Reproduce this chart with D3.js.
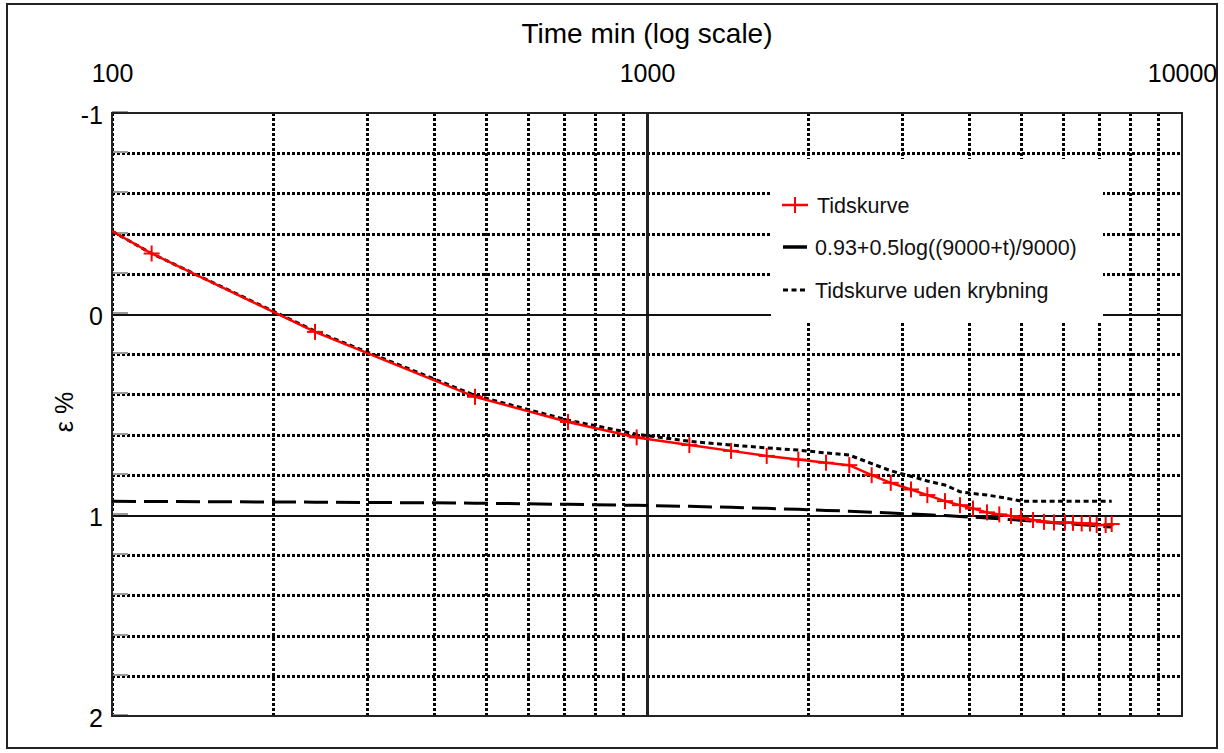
<!DOCTYPE html>
<html>
<head>
<meta charset="utf-8">
<script src="https://cdn.jsdelivr.net/npm/d3@7"></script>
<style>
  html, body { margin: 0; padding: 0; background: #fff; }
  svg { display: block; font-family: "Liberation Sans", Arial, sans-serif; }
</style>
</head>
<body>
<svg id="chart" width="1224" height="753"></svg>
<script>
// ---- data ----
const times = [100, 118.6, 239.6, 477, 711.8, 956.5, 1200, 1436, 1674, 1918, 2161, 2388, 2630, 2855, 3115, 3342, 3606, 3846, 4068, 4320, 4555, 4790, 5000, 5267, 5521, 5764, 6044, 6256, 6494, 6730, 6927, 7200, 7389];
const tidskurve = [-0.412, -0.301, 0.089, 0.412, 0.537, 0.614, 0.652, 0.681, 0.706, 0.724, 0.740, 0.752, 0.802, 0.840, 0.873, 0.901, 0.931, 0.951, 0.968, 0.987, 0.997, 1.005, 1.014, 1.025, 1.034, 1.037, 1.037, 1.039, 1.042, 1.042, 1.050, 1.050, 1.045];
const krybFit = [0.932, 0.933, 0.936, 0.941, 0.947, 0.952, 0.957, 0.962, 0.967, 0.972, 0.977, 0.981, 0.986, 0.990, 0.995, 0.999, 1.003, 1.007, 1.011, 1.015, 1.019, 1.023, 1.026, 1.030, 1.034, 1.038, 1.042, 1.045, 1.048, 1.051, 1.054, 1.058, 1.060];
const udenKryb = [-0.412, -0.301, 0.085, 0.405, 0.528, 0.598, 0.633, 0.652, 0.666, 0.677, 0.691, 0.702, 0.744, 0.780, 0.807, 0.831, 0.851, 0.884, 0.893, 0.901, 0.910, 0.921, 0.931, 0.931, 0.931, 0.931, 0.931, 0.931, 0.931, 0.931, 0.931, 0.931, 0.931];
const xTicks = [100, 1000, 10000];
const yTicks = [-1, 0, 1, 2];
const seriesNames = ["Tidskurve", "0.93+0.5log((9000+t)/9000)", "Tidskurve uden krybning"];
const xTitle = "Time min (log scale)";
const yTitle = "ε %";

// ---- layout ----
const svg = d3.select("#chart");
const L = 112, R = 1182, T = 113, B = 716;
const x = d3.scaleLog().domain([100, 10000]).range([L, R]);
const y = d3.scaleLinear().domain([-1, 2]).range([T, B]);
const rx = v => Math.round(x(v)) + 0.5;
const ry = v => Math.round(y(v)) + 0.5;

// outer frame
svg.append("rect").attr("x", 7).attr("y", 4).attr("width", 1210).attr("height", 744)
  .attr("fill", "#fff").attr("stroke", "#222").attr("stroke-width", 2);

const grid = svg.append("g").attr("shape-rendering", "crispEdges");
// vertical minor grid lines (dotted)
const xMinor = [];
[100, 1000].forEach(d => { for (let k = 1; k <= 9; k++) xMinor.push(d * k); });
grid.selectAll("line.vx").data(xMinor.filter(v => v !== 1000)).join("line")
  .attr("x1", d => rx(d)).attr("x2", d => rx(d)).attr("y1", T).attr("y2", B)
  .attr("stroke", "#000").attr("stroke-width", 3).attr("stroke-dasharray", "3,2");
// horizontal grid lines every 0.2
const yGrid = d3.range(-0.8, 2.0, 0.2).map(v => Math.round(v * 10) / 10);
grid.selectAll("line.hy").data(yGrid.filter(v => v !== 0 && v !== 1)).join("line")
  .attr("x1", L).attr("x2", R).attr("y1", d => ry(d)).attr("y2", d => ry(d))
  .attr("stroke", "#000").attr("stroke-width", 3).attr("stroke-dasharray", "3,2");
// solid major lines
grid.append("line").attr("x1", rx(1000)).attr("x2", rx(1000)).attr("y1", T).attr("y2", B)
  .attr("stroke", "#222").attr("stroke-width", 3);
[0, 1].forEach(v => grid.append("line").attr("x1", L).attr("x2", R).attr("y1", ry(v)).attr("y2", ry(v))
  .attr("stroke", "#111").attr("stroke-width", 2));
// small gray ticks on the left axis
grid.selectAll("line.tk").data(d3.range(-1, 2.01, 0.2)).join("line")
  .attr("x1", L).attr("x2", L + 16).attr("y1", d => ry(d) - 2).attr("y2", d => ry(d) - 2)
  .attr("stroke", "#999").attr("stroke-width", 2);
// plot border
svg.append("rect").attr("x", L).attr("y", T).attr("width", R - L).attr("height", B - T)
  .attr("fill", "none").attr("stroke", "#222").attr("stroke-width", 2).attr("shape-rendering", "crispEdges");

// axes (labels via d3 axes, domain/ticks hidden)
const fmt = d => String(d).replace("\u2212", "-");
const xAxis = svg.append("g").attr("transform", `translate(0,${T - 28})`)
  .call(d3.axisTop(x).tickValues(xTicks).tickFormat(fmt).tickSize(0));
xAxis.select(".domain").remove();
xAxis.selectAll("text").attr("font-size", 25).attr("fill", "#000")
  .attr("font-family", "Liberation Sans, Arial, sans-serif").attr("dy", 0);
const yAxis = svg.append("g").attr("transform", `translate(${L - 9},0)`)
  .call(d3.axisLeft(y).tickValues(yTicks).tickFormat(fmt).tickSize(0));
yAxis.select(".domain").remove();
yAxis.selectAll("text").attr("font-size", 25).attr("fill", "#000")
  .attr("font-family", "Liberation Sans, Arial, sans-serif").attr("dy", "0.4em").attr("x", 0);

svg.append("text").attr("x", (L + R) / 2).attr("y", 43).attr("text-anchor", "middle")
  .attr("font-size", 28).text(xTitle);
svg.append("text").attr("transform", "translate(73,412) rotate(-90)").attr("text-anchor", "middle")
  .attr("font-size", 25).text(yTitle);

// ---- series ----
svg.append("clipPath").attr("id", "plotclip").append("rect")
  .attr("x", L).attr("y", T).attr("width", R - L).attr("height", B - T);
const plot = svg.append("g").attr("clip-path", "url(#plotclip)");
const line = d3.line().x(d => x(d[0])).y(d => y(d[1]));

plot.append("path").datum(times.map((t, i) => [t, krybFit[i]]))
  .attr("d", line).attr("fill", "none").attr("stroke", "#000").attr("stroke-width", 3)
  .attr("stroke-dasharray", "24,8");
plot.append("path").datum(times.map((t, i) => [t, udenKryb[i]]))
  .attr("d", line).attr("fill", "none").attr("stroke", "#000").attr("stroke-width", 3)
  .attr("stroke-dasharray", "5,3.5");
plot.append("path").datum(times.map((t, i) => [t, tidskurve[i]]))
  .attr("d", line).attr("fill", "none").attr("stroke", "#ff0000").attr("stroke-width", 2.5);

const ms = 8;
const marks = plot.append("g").attr("stroke", "#ff0000").attr("stroke-width", 2);
times.forEach((t, i) => {
  if (t <= 100) return;
  const cx = x(t), cy = y(tidskurve[i]);
  marks.append("line").attr("x1", cx - ms).attr("x2", cx + ms).attr("y1", cy).attr("y2", cy);
  marks.append("line").attr("x1", cx).attr("x2", cx).attr("y1", cy - ms).attr("y2", cy + ms);
});

// ---- legend ----
const lg = svg.append("g");
lg.append("rect").attr("x", 771).attr("y", 159).attr("width", 332).attr("height", 163).attr("fill", "#fff");
const ly = [205, 247, 290];
lg.append("line").attr("x1", 782).attr("x2", 808).attr("y1", ly[0]).attr("y2", ly[0])
  .attr("stroke", "#ff0000").attr("stroke-width", 2.5);
lg.append("line").attr("x1", 795).attr("x2", 795).attr("y1", ly[0] - 8).attr("y2", ly[0] + 8)
  .attr("stroke", "#ff0000").attr("stroke-width", 2);
lg.append("line").attr("x1", 783).attr("x2", 807).attr("y1", ly[1]).attr("y2", ly[1])
  .attr("stroke", "#000").attr("stroke-width", 3.5).attr("stroke-dasharray", "24,8");
lg.append("line").attr("x1", 783).attr("x2", 805).attr("y1", ly[2]).attr("y2", ly[2])
  .attr("stroke", "#000").attr("stroke-width", 3).attr("stroke-dasharray", "5,3.5");
seriesNames.forEach((s, i) => {
  lg.append("text").attr("x", i === 0 ? 817 : 815).attr("y", ly[i]).attr("dy", "0.35em")
    .attr("font-size", 21.5).attr("fill", "#111").text(s);
});
</script>
</body>
</html>
